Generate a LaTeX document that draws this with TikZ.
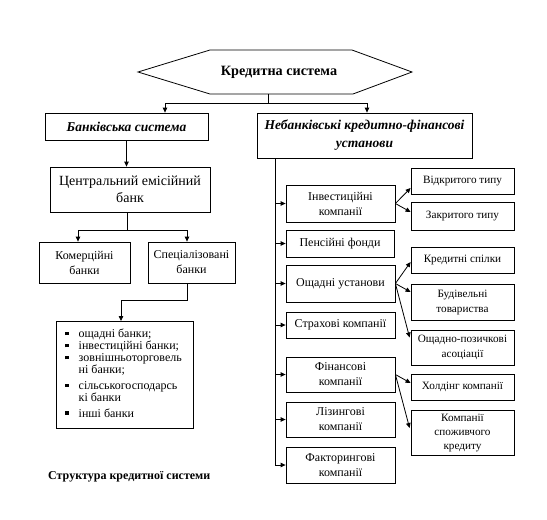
\documentclass[tikz,border=0pt]{standalone}
\usepackage{fontspec}
\setmainfont{Liberation Serif}
\usetikzlibrary{arrows.meta,calc}
\newcommand{\sqbul}{\raisebox{2.2pt}{\rule{3.4pt}{3.4pt}}}
\begin{document}
\begin{tikzpicture}[x=1pt,y=-1pt,
  ln/.style={line width=0.8pt},
  arr/.style={line width=0.8pt,-{Triangle[length=5pt,width=4.5pt]}},
  bx/.style={draw,line width=0.8pt,inner sep=1pt,align=center},
  sm/.style={font=\fontsize{12}{15}\selectfont},
  rs/.style={font=\fontsize{11.2}{15}\selectfont},
  lg/.style={font=\fontsize{14}{17}\selectfont},
  bi/.style={font=\fontsize{13.5}{18}\selectfont\bfseries\itshape}]
\useasboundingbox (0,0) rectangle (547,520);
% hexagon
\coordinate (h1) at (138,72);
\coordinate (h2) at (210,50);
\coordinate (h3) at (352,50);
\coordinate (h4) at (412,72);
\coordinate (h5) at (353,94);
\coordinate (h6) at (210,94);
\draw[ln] (h1) -- (h2) -- (h3) -- (h4) -- (h5) -- (h6) -- cycle;
\node[font=\fontsize{14.2}{16}\selectfont\bfseries] (top) at (279,72) {Кредитна система};
\coordinate (hb) at (268,94);
\coordinate (J) at (268,103);
% level 1
\node[bx,bi,minimum width=163,minimum height=27] (bank) at (126.5,126.5) {Банківська система};
\node[bx,bi,minimum width=215,minimum height=45] (nb) at (364.5,135.5) {Небанківські кредитно-фінансові\\установи};
\draw[ln] (hb) -- (J);
\draw[arr] (J) -| ([xshift=38.5]bank.north);
\draw[arr] (J) -| ([xshift=2.5]nb.north);
% banking branch
\node[bx,lg,minimum width=160,minimum height=45] (cb) at (130,189.5) {Центральний емісійний\\банк};
\draw[arr] (bank.south) -- (bank.south |- cb.north);
\node[bx,sm,minimum width=91,minimum height=41] (kom) at (84.5,262.5) {Комерційні\\банки};
\node[bx,sm,minimum width=87,minimum height=41] (spec) at (191.5,262.5) {Спеціалізовані\\банки};
\coordinate (J2) at (127,230);
\draw[ln] (cb.south -| J2) -- (J2);
\draw[arr] (J2) -| ([xshift=-6.5]kom.north);
\draw[arr] (J2) -| ([xshift=-4.5]spec.north);
\node[bx,minimum width=137,minimum height=107,anchor=north west,inner sep=0pt] (list) at (56,321) {};
\node[anchor=north west,inner sep=0pt,font=\fontsize{12}{12}\selectfont] (listtxt) at (65,328.5) {%
\begin{tabular}{@{}p{9pt}@{\hspace{4.5pt}}l@{}}
\sqbul & ощадні банки;\\
\sqbul & інвестиційні банки;\\
\sqbul & зовнішньоторговель\\
 & ні банки;\\[3.5pt]
\sqbul & сільськогосподарсь\\
 & кі банки\\[3.5pt]
\sqbul & інші банки
\end{tabular}};
\coordinate (J3) at (121,300);
\draw[ln] ([xshift=-4.5]spec.south) |- (J3);
\draw[arr] (J3) -- (list.north -| J3);
% non-banking branch
\node[bx,sm,minimum width=109,minimum height=37] (inv) at (340.5,203.5) {Інвестиційні\\компанії};
\node[bx,sm,minimum width=108,minimum height=27] (pens) at (340,243.5) {Пенсійні фонди};
\node[bx,sm,minimum width=109,minimum height=37] (osch) at (340.5,283.5) {Ощадні установи};
\node[bx,sm,minimum width=109,minimum height=26] (strax) at (340.5,325) {Страхові компанії};
\node[bx,sm,minimum width=109,minimum height=35] (fin) at (340.5,374.5) {Фінансові\\компанії};
\node[bx,sm,minimum width=109,minimum height=35] (liz) at (340.5,419.5) {Лізингові\\компанії};
\node[bx,sm,minimum width=109,minimum height=36] (fakt) at (340.5,465) {Факторингові\\компанії};
\coordinate (T) at (275,158);
\draw[arr] (T) |- (fakt.west);
\foreach \n in {inv,pens,osch,strax,fin,liz}{\draw[arr] (T |- \n.west) -- (\n.west);}
% right column
\node[bx,rs,minimum width=103,minimum height=26] (vidk) at (462.5,181) {Відкритого типу};
\node[bx,rs,minimum width=103,minimum height=28] (zakr) at (462.5,216) {Закритого типу};
\node[bx,rs,minimum width=103,minimum height=26] (kred) at (462.5,260) {Кредитні спілки};
\node[bx,rs,minimum width=103,minimum height=36] (bud) at (462.5,302) {Будівельні\\товариства};
\node[bx,rs,minimum width=103,minimum height=35] (oschp) at (462.5,347.5) {Ощадно-позичкові\\асоціації};
\node[bx,rs,minimum width=103,minimum height=26] (hold) at (462.5,387) {Холдінг компанії};
\node[bx,minimum width=103,minimum height=45,font=\fontsize{11.2}{14}\selectfont] (spoz) at (462.5,432.5) {Компанії\\споживчого\\кредиту};
\draw[arr] (inv.east) -- ([yshift=-7pt]vidk.west);
\draw[arr] (inv.east) -- ([yshift=4pt]zakr.west);
\draw[arr] (osch.east) -- ([yshift=-2pt]kred.west);
\draw[arr] (osch.east) -- ([yshift=10pt]bud.west);
\draw[arr] (osch.east) -- ([xshift=-1pt,yshift=10pt]oschp.west);
\draw[arr] (fin.east) -- ([yshift=4pt]hold.west);
\draw[arr] (fin.east) -- ([xshift=-1pt,yshift=4.5pt]spoz.west);
% caption
\node[anchor=west,inner sep=0pt,font=\fontsize{12}{13}\selectfont\bfseries] (cap) at (48,477) {Структура кредитної системи};
\end{tikzpicture}
\end{document}
